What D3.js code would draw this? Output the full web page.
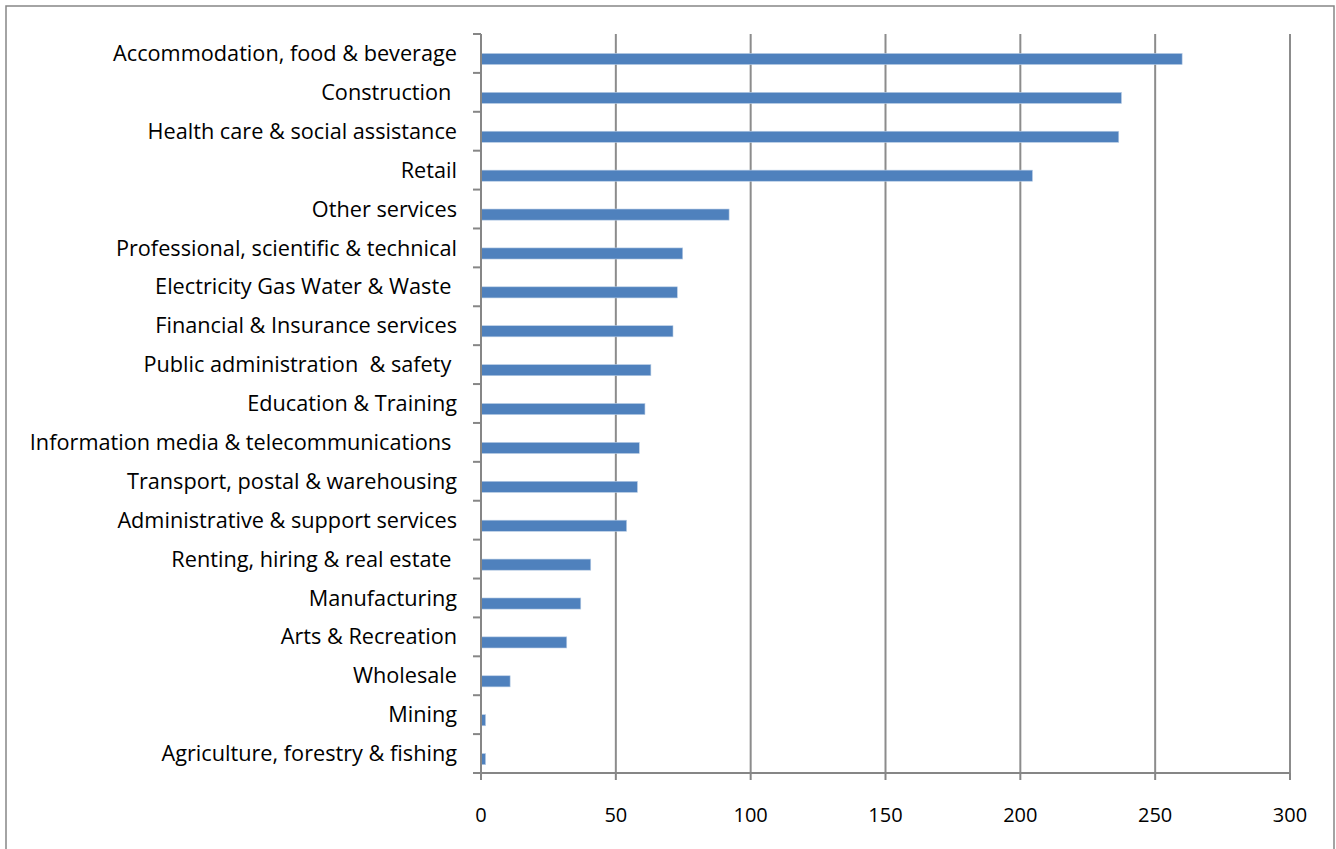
<!DOCTYPE html>
<html lang="en">
<head>
   <meta charset="UTF-8">
   <title>Industries</title>
   <style>
     body { margin: 0; background: #fff; }
     svg text { font-family: "Open Sans", Lato, sans-serif; fill: #000; }
   </style>
</head>
<body>
<script src="https://d3js.org/d3.v7.min.js"></script>
<script>
     const categories = [
          "Accommodation, food & beverage",
          "Construction ",
          "Health care & social assistance",
          "Retail",
          "Other services",
          "Professional, scientific & technical",
          "Electricity Gas Water & Waste ",
          "Financial & Insurance services",
          "Public administration  & safety ",
          "Education & Training",
          "Information media & telecommunications ",
          "Transport, postal & warehousing",
          "Administrative & support services",
          "Renting, hiring & real estate ",
          "Manufacturing",
          "Arts & Recreation",
          "Wholesale",
          "Mining",
          "Agriculture, forestry & fishing"
     ];
     // main series (blue)
     const valuesBlue = [260, 237.5, 236.5, 204.5, 92, 74.8, 72.8, 71.2, 63, 60.8, 58.7, 58, 54, 40.7, 37, 31.8, 10.8, 1.7, 1.7];
     // second series, almost zero (thin red slivers)
     const valuesRed = [0.2, 0.2, 0.2, 0.2, 0.2, 0.2, 0.2, 0.2, 0.2, 0.2, 0.2, 0.2, 0.2, 0.2, 0.2, 0.2, 0.2, 0.2, 0.2];
     const xTicks = [0, 50, 100, 150, 200, 250, 300];

     const width = 1336, height = 849;
     const margin = {top: 34, right: 46, bottom: 76, left: 481};

     const svg = d3.select('body').append('svg')
          .attr('width', width)
          .attr('height', height);

     // outer chart frame
     svg.append('rect')
          .attr('x', 6).attr('y', 6)
          .attr('width', 1328).attr('height', 860)
          .attr('fill', '#fff')
          .attr('stroke', '#868686')
          .attr('stroke-width', 1.5);

     const scaleX = d3.scaleLinear()
          .domain([0, 300])
          .range([margin.left, width - margin.right]);

     const scaleY = d3.scaleBand()
          .domain(categories)
          .range([margin.top, height - margin.bottom])
          .padding(0);

     const inner = d3.scaleBand()
          .domain(['red', 'blue'])
          .range([0, scaleY.bandwidth()])
          .paddingInner(0)
          .paddingOuter(0.75);

     // gridlines
     svg.append('g')
          .selectAll('line')
          .data(xTicks.slice(1))
          .join('line')
          .attr('x1', d => scaleX(d)).attr('x2', d => scaleX(d))
          .attr('y1', margin.top).attr('y2', height - margin.bottom)
          .attr('stroke', '#8c8c8c')
          .attr('stroke-width', 2);

     const rows = categories.map((c, i) => ({cat: c, blue: valuesBlue[i], red: valuesRed[i]}));

     const group = svg.append('g')
          .selectAll('g')
          .data(rows)
          .join('g')
          .attr('transform', d => `translate(0,${scaleY(d.cat)})`);

     group.append('rect')
          .attr('x', scaleX(0))
          .attr('y', inner('red'))
          .attr('width', d => scaleX(d.red) - scaleX(0))
          .attr('height', inner.bandwidth())
          .attr('fill', '#C0504D')
          .attr('opacity', 0.5);

     group.append('rect')
          .attr('x', scaleX(0))
          .attr('y', inner('blue'))
          .attr('width', d => scaleX(d.blue) - scaleX(0))
          .attr('height', inner.bandwidth())
          .attr('fill', '#4F81BD')
          .attr('stroke', '#b9cde5')
          .attr('stroke-width', 0.6);

     // y axis
     const yAxis = svg.append('g')
          .attr('transform', `translate(${margin.left},0)`);
     yAxis.append('line')
          .attr('x1', 0).attr('x2', 0)
          .attr('y1', margin.top).attr('y2', height - margin.bottom)
          .attr('stroke', '#868686').attr('stroke-width', 2);
     const bounds = categories.map(c => scaleY(c)).concat([height - margin.bottom]);
     yAxis.selectAll('line.tick')
          .data(bounds)
          .join('line')
          .attr('class', 'tick')
          .attr('x1', -8).attr('x2', 0)
          .attr('y1', d => d).attr('y2', d => d)
          .attr('stroke', '#868686').attr('stroke-width', 2);
     yAxis.selectAll('text')
          .data(categories)
          .join('text')
          .attr('x', -24)
          .attr('y', d => scaleY(d) + scaleY.bandwidth() / 2)
          .attr('dy', '0.35em')
          .attr('text-anchor', 'end')
          .style('font-size', '21.7px')
          .style('white-space', 'pre')
          .text(d => d);

     // x axis
     const xAxis = svg.append('g')
          .attr('transform', `translate(0,${height - margin.bottom})`);
     xAxis.append('line')
          .attr('x1', margin.left - 8).attr('x2', scaleX(300))
          .attr('stroke', '#868686').attr('stroke-width', 2);
     xAxis.selectAll('line.tick')
          .data(xTicks)
          .join('line')
          .attr('class', 'tick')
          .attr('x1', d => scaleX(d)).attr('x2', d => scaleX(d))
          .attr('y1', 0).attr('y2', 7)
          .attr('stroke', '#868686').attr('stroke-width', 2);
     xAxis.selectAll('text')
          .data(xTicks)
          .join('text')
          .attr('x', d => scaleX(d))
          .attr('y', 42)
          .attr('dy', '0.35em')
          .attr('text-anchor', 'middle')
          .style('font-size', '20px')
          .text(d => d);
</script>
</body>
</html>
